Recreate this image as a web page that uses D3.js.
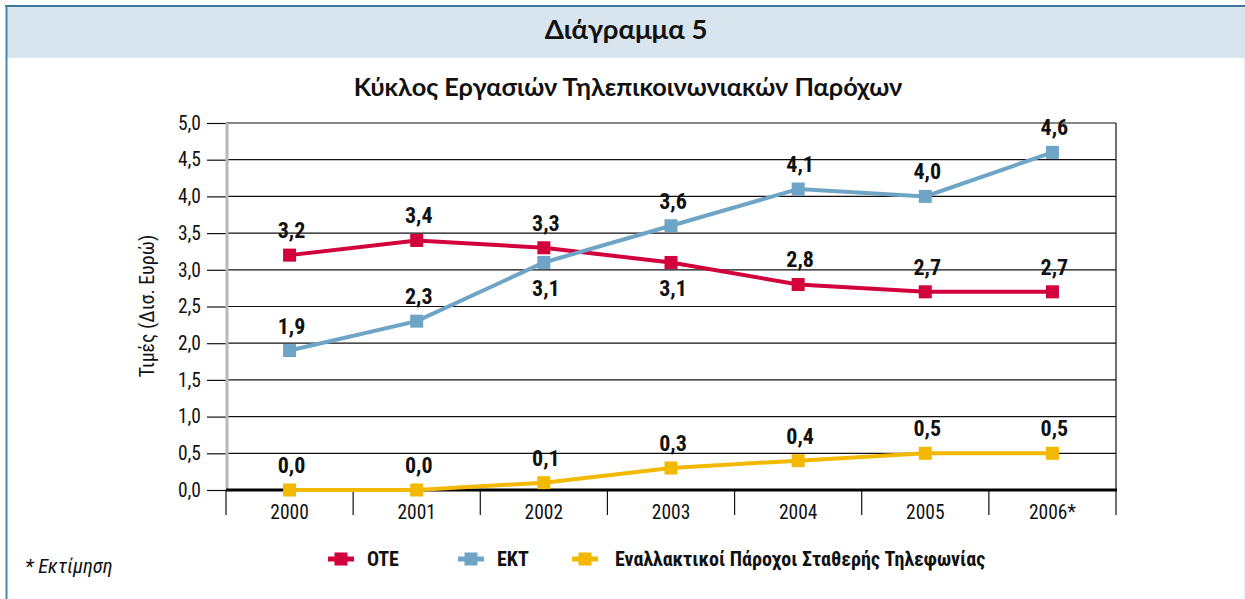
<!DOCTYPE html>
<html><head><meta charset="utf-8">
<script src="https://cdn.jsdelivr.net/npm/d3@7"></script>
<style>
body{margin:0;background:#fff;}
svg{display:block;}
</style></head>
<body>
<svg id="chart" width="1245" height="599"></svg>
<script>
const years = ["2000","2001","2002","2003","2004","2005","2006*"];
const oteValues = [3.2, 3.4, 3.3, 3.1, 2.8, 2.7, 2.7];
const ektValues = [1.9, 2.3, 3.1, 3.6, 4.1, 4.0, 4.6];
const altValues = [0.0, 0.0, 0.1, 0.3, 0.4, 0.5, 0.5];
const seriesNames = ["OTE", "EKT", "Εναλλακτικοί Πάροχοι Σταθερής Τηλεφωνίας"];
const yTicks = [0, 0.5, 1, 1.5, 2, 2.5, 3, 3.5, 4, 4.5, 5];
// indices of points whose value label sits below the marker
const belowIdx = {"OTE":[3], "EKT":[2], "ALT":[]};

const colors = {"OTE":"#d2003c","EKT":"#6ea4c6","ALT":"#f2b900"};
const series = [
  {key:"OTE", name:seriesNames[0], values:oteValues},
  {key:"EKT", name:seriesNames[1], values:ektValues},
  {key:"ALT", name:seriesNames[2], values:altValues}
];

const svg = d3.select("#chart");
const W = 1245, H = 599;
const condensed = "'Roboto Condensed','Liberation Sans Narrow','Arial Narrow',sans-serif";
const titleFont = "Lato, 'Open Sans', sans-serif";

// frame
svg.append("rect").attr("x",6).attr("y",6).attr("width",W-6).attr("height",52).attr("fill","#d8e5ef");
svg.append("line").attr("x1",5).attr("x2",W).attr("y1",6).attr("y2",6).attr("stroke","#3b789c").attr("stroke-width",2);
svg.append("line").attr("x1",6.5).attr("x2",6.5).attr("y1",5).attr("y2",H).attr("stroke","#4a86a8").attr("stroke-width",2);
svg.append("line").attr("x1",W-1).attr("x2",W-1).attr("y1",58).attr("y2",H).attr("stroke","#eef3f7").attr("stroke-width",1.5);

svg.append("text").attr("x",626).attr("y",39).attr("text-anchor","middle")
  .attr("font-family",titleFont).attr("font-weight","bold").attr("font-size",27.5)
  .attr("fill","#111").text("Διάγραμμα 5");
svg.append("text").attr("x",628).attr("y",96).attr("text-anchor","middle")
  .attr("font-family",titleFont).attr("font-weight","bold").attr("font-size",25.3)
  .attr("fill","#111").text("Κύκλος Εργασιών Τηλεπικοινωνιακών Παρόχων");

const x = d3.scaleBand().domain(years).range([226,1116]).paddingInner(0).paddingOuter(0);
const xc = d => x(d) + x.bandwidth()/2;
const y = d3.scaleLinear().domain([0,5]).range([490,123]);

// gridlines
svg.append("g").selectAll("line").data(yTicks.filter(t=>t>0)).join("line")
  .attr("x1",226).attr("x2",1116).attr("y1",d=>y(d)).attr("y2",d=>y(d))
  .attr("stroke","#111").attr("stroke-width",1.2);
svg.append("line").attr("x1",1116).attr("x2",1116).attr("y1",y(5)).attr("y2",490).attr("stroke","#111").attr("stroke-width",1.2);

// y axis
const yAxis = d3.axisLeft(y).tickValues(yTicks).tickSize(20).tickPadding(6)
  .tickFormat(d => d3.format(".1f")(d).replace(".", ","));
const gy = svg.append("g").attr("transform","translate(227,0)").call(yAxis);
gy.select(".domain").remove();
gy.selectAll(".tick line").attr("stroke","#111").attr("stroke-width",1.2);
gy.selectAll(".tick text").attr("font-family",condensed).attr("font-size",19.5).attr("fill","#111");
svg.append("line").attr("x1",227).attr("x2",227).attr("y1",y(5)).attr("y2",490).attr("stroke","#b8b8b8").attr("stroke-width",3);

// x axis
const gx = svg.append("g").attr("transform","translate(0,490)")
  .call(d3.axisBottom(x).tickSize(0).tickPadding(15));
gx.select(".domain").remove();
gx.selectAll(".tick text").attr("font-family",condensed).attr("font-size",19.5).attr("fill","#111");
const bounds = years.map(d=>x(d)).concat([x(years[years.length-1])+x.bandwidth()]);
svg.append("g").selectAll("line").data(bounds).join("line")
  .attr("x1",d=>d).attr("x2",d=>d).attr("y1",490).attr("y2",515)
  .attr("stroke","#111").attr("stroke-width",1.2);
svg.append("line").attr("x1",226).attr("x2",1117).attr("y1",490).attr("y2",490).attr("stroke","#000").attr("stroke-width",3);

// y label
svg.append("text").attr("transform","translate(154,306) rotate(-90)").attr("text-anchor","middle")
  .attr("font-family",condensed).attr("font-size",20).attr("fill","#111").text("Τιμές (Δισ. Ευρώ)");

// lines
const line = d3.line().x((d,i)=>xc(years[i])).y(d=>y(d));
series.forEach(s=>{
  svg.append("path").datum(s.values).attr("d",line).attr("fill","none")
    .attr("stroke",colors[s.key]).attr("stroke-width",4);
  svg.append("g").selectAll("rect").data(s.values).join("rect")
    .attr("x",(d,i)=>xc(years[i])-6.5).attr("y",d=>y(d)-6.5).attr("width",13).attr("height",13)
    .attr("fill",colors[s.key]);
  svg.append("g").selectAll("text").data(s.values).join("text")
    .attr("x",(d,i)=>xc(years[i])+2)
    .attr("y",(d,i)=> belowIdx[s.key].includes(i) ? y(d)+34 : y(d)-17)
    .attr("text-anchor","middle").attr("font-family",condensed).attr("font-weight","bold")
    .attr("font-size",22).attr("fill","#111")
    .text(d=>d3.format(".1f")(d).replace(".", ","));
});

// legend
const legendX = [328, 458, 572];
const legendTextX = [367, 497, 615];
series.forEach((s,i)=>{
  const g = svg.append("g");
  g.append("line").attr("x1",legendX[i]).attr("x2",legendX[i]+26).attr("y1",559).attr("y2",559)
    .attr("stroke",colors[s.key]).attr("stroke-width",5);
  g.append("rect").attr("x",legendX[i]+6.5).attr("y",552.5).attr("width",13).attr("height",13).attr("fill",colors[s.key]);
  g.append("text").attr("x",legendTextX[i]).attr("y",566).attr("font-family",condensed)
    .attr("font-weight","bold").attr("font-size",20).attr("fill","#111").text(s.name);
});

svg.append("text").attr("x",25).attr("y",573).attr("font-family",condensed).attr("font-style","italic")
  .attr("font-size",20.5).attr("fill","#111").text("* Εκτίμηση");
</script>
</body></html>
